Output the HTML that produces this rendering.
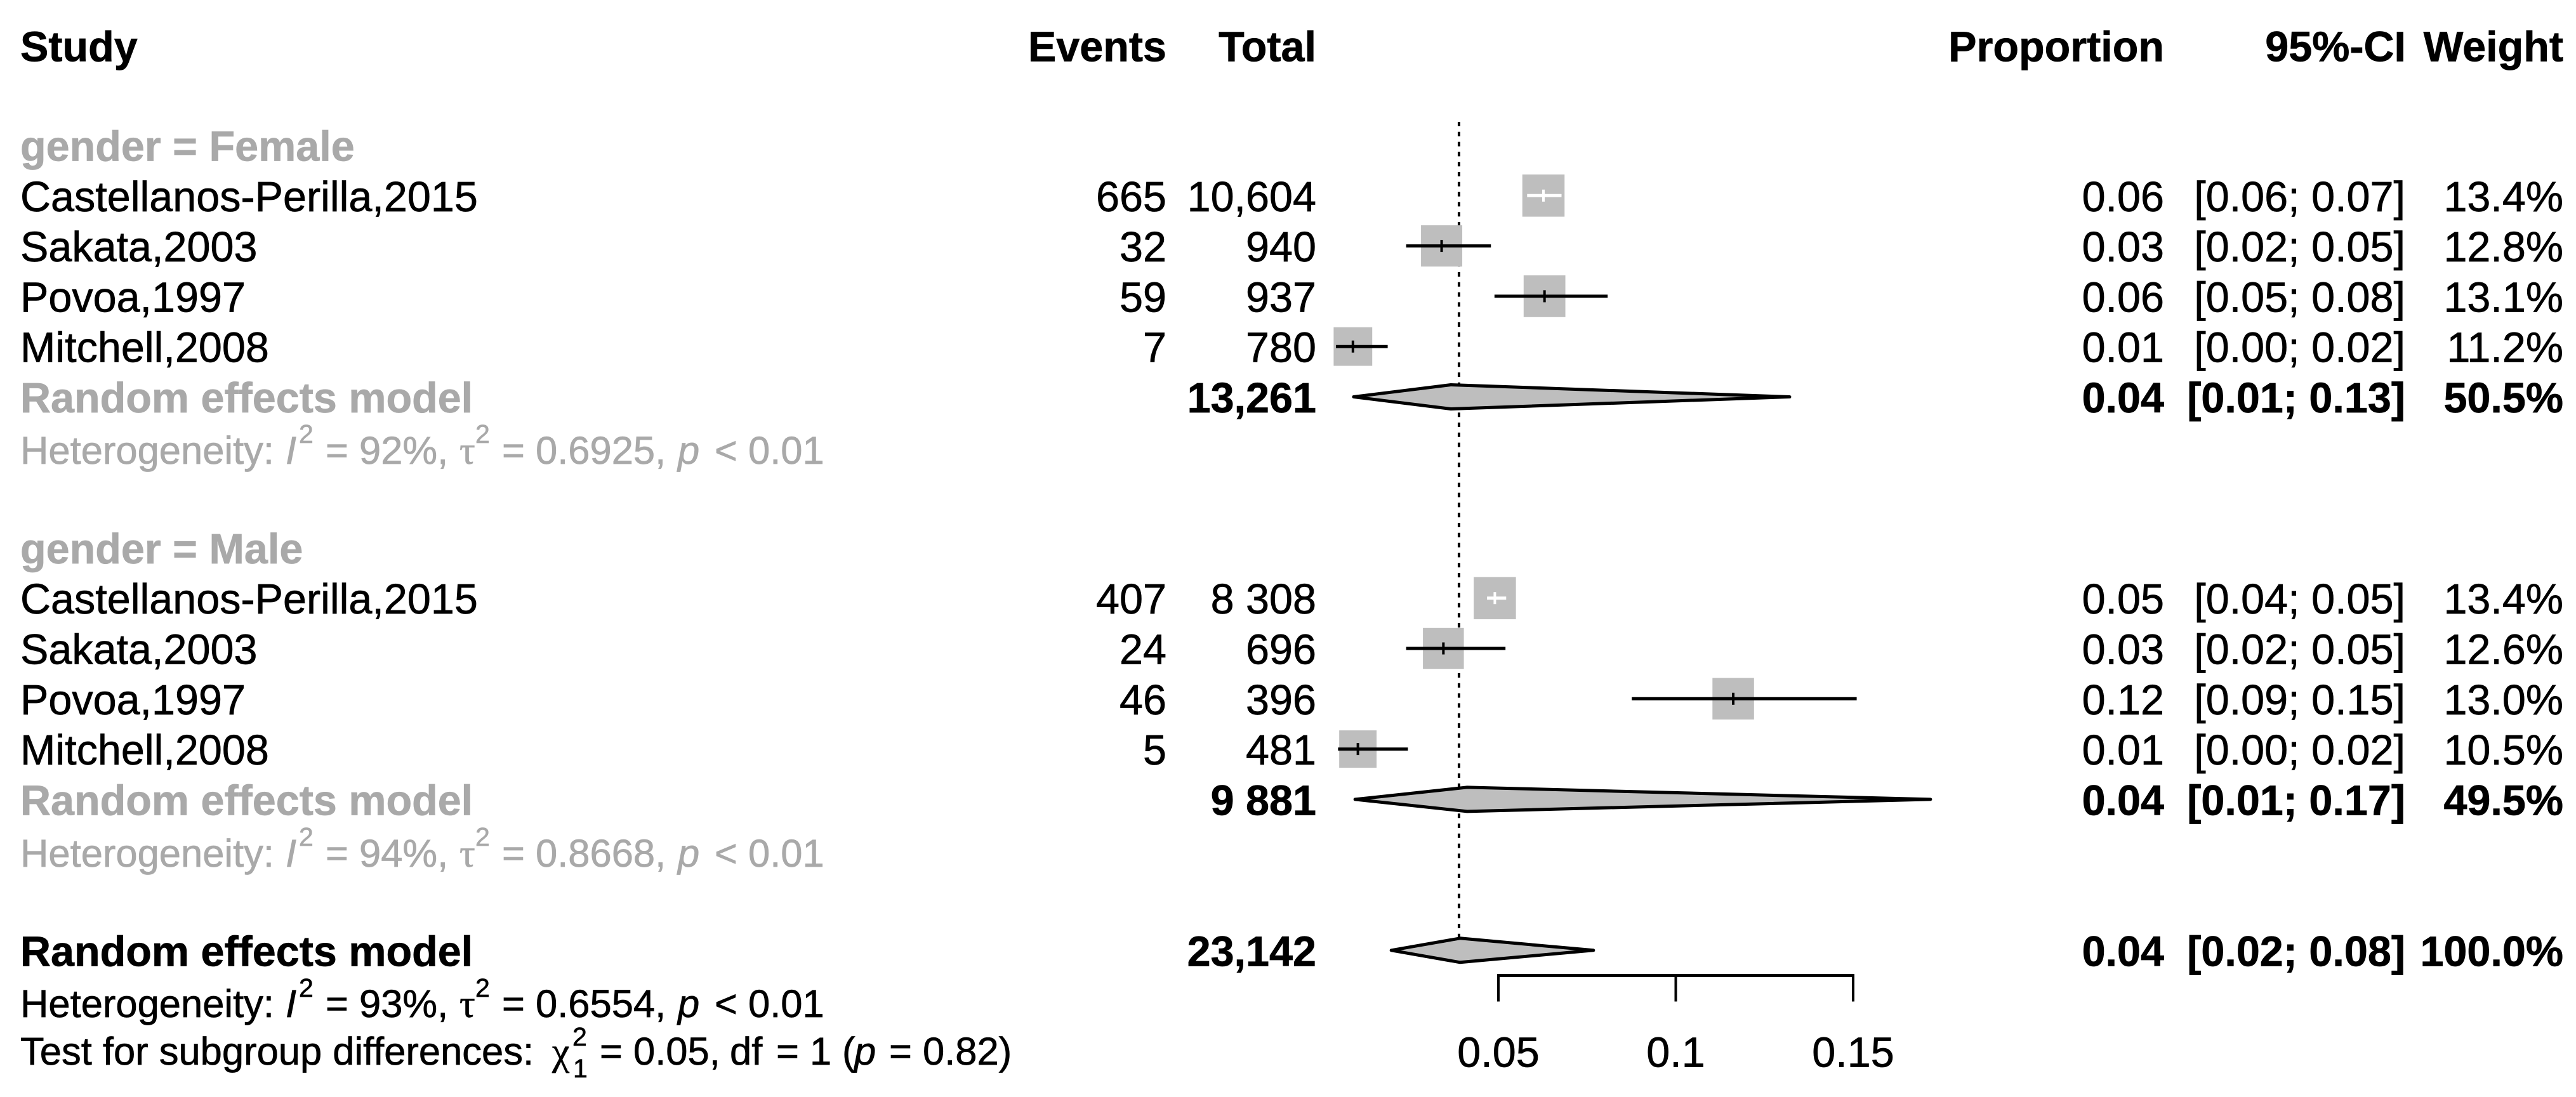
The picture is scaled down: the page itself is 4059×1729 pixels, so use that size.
<!DOCTYPE html>
<html lang="en">
<head>
<meta charset="utf-8">
<title>Forest plot of proportions by gender</title>
<style>
html,body{margin:0;padding:0;background:#fff;}
body{width:4059px;height:1729px;overflow:hidden;}
svg{display:block;}
text{font-family:"Liberation Sans",Arial,sans-serif;font-size:66.5px;fill:#000;stroke:#000;stroke-width:.7px;}
.b{font-weight:bold;}
.g{fill:#a9a9a9;stroke:#a9a9a9;}
.i{font-style:italic;}
.sym{font-family:"Liberation Serif",serif;}
.h{font-size:61.5px;}
.s{font-size:41px;}
.r{text-anchor:end;}
.m{text-anchor:middle;}
</style>
</head>
<body>
<svg id="plot" xmlns="http://www.w3.org/2000/svg" width="4059" height="1729" viewBox="0 0 4059 1729">
  <rect width="4059" height="1729" fill="#fff"/>

  <text class="b" x="32" y="96.5">Study</text>
  <text class="b r" x="1838" y="96.5">Events</text>
  <text class="b r" x="2074" y="96.5">Total</text>
  <text class="b r" x="3410" y="96.5">Proportion</text>
  <text class="b r" x="3791" y="96.5">95%-CI</text>
  <text class="b r" x="4039" y="96.5">Weight</text>

  <text class="b g" x="32" y="253.5">gender = Female</text>
  <text class="b g" x="32" y="888">gender = Male</text>

  <text class="g h" y="731"><tspan x="32">Heterogeneity:</tspan><tspan x="450" class="i">I</tspan><tspan x="471" y="698" class="s">2</tspan><tspan x="513" y="731">= 92%,</tspan><tspan x="724" class="sym">τ</tspan><tspan x="749" y="698" class="s">2</tspan><tspan x="791" y="731">= 0.6925,</tspan><tspan x="1068" class="i">p</tspan><tspan x="1126">&lt; 0.01</tspan></text>
  <text class="g h" y="1366"><tspan x="32">Heterogeneity:</tspan><tspan x="450" class="i">I</tspan><tspan x="471" y="1333" class="s">2</tspan><tspan x="513" y="1366">= 94%,</tspan><tspan x="724" class="sym">τ</tspan><tspan x="749" y="1333" class="s">2</tspan><tspan x="791" y="1366">= 0.8668,</tspan><tspan x="1068" class="i">p</tspan><tspan x="1126">&lt; 0.01</tspan></text>
  <text class="h" y="1603"><tspan x="32">Heterogeneity:</tspan><tspan x="450" class="i">I</tspan><tspan x="471" y="1571" class="s">2</tspan><tspan x="513" y="1603">= 93%,</tspan><tspan x="724" class="sym">τ</tspan><tspan x="749" y="1571" class="s">2</tspan><tspan x="791" y="1603">= 0.6554,</tspan><tspan x="1068" class="i">p</tspan><tspan x="1126">&lt; 0.01</tspan></text>
  <text class="h" y="1678"><tspan x="32">Test for subgroup differences:</tspan><tspan x="870" class="sym">χ</tspan><tspan x="902" y="1648" class="s">2</tspan><tspan x="903" y="1698" class="s">1</tspan><tspan x="945" y="1678">= 0.05,</tspan><tspan x="1150">df</tspan><tspan x="1223">= 1</tspan><tspan x="1327">(</tspan><tspan x="1346" class="i">p</tspan><tspan x="1401">= 0.82)</tspan></text>

  <g id="marks"></g>
  <g id="labels"></g>
</svg>

<script>
// Study-level data (female rows first, then male rows)
const studies = ["Castellanos-Perilla,2015","Sakata,2003","Povoa,1997","Mitchell,2008","Castellanos-Perilla,2015","Sakata,2003","Povoa,1997","Mitchell,2008"];
const eventLabels = ["665","32","59","7","407","24","46","5"];
const totalLabels = ["10,604","940","937","780","8 308","696","396","481"];
const means = [0.0627,0.0340,0.0630,0.0090,0.0490,0.0345,0.1162,0.0104];
const lowers = [0.0581,0.0240,0.0489,0.0042,0.0468,0.0240,0.0876,0.0048];
const uppers = [0.0678,0.0479,0.0808,0.0188,0.0522,0.0520,0.1510,0.0245];
const weights = [13.4,12.8,13.1,11.2,13.4,12.6,13.0,10.5];
const proportionLabels = ["0.06","0.03","0.06","0.01","0.05","0.03","0.12","0.01"];
const ciLabels = ["[0.06; 0.07]","[0.02; 0.05]","[0.05; 0.08]","[0.00; 0.02]","[0.04; 0.05]","[0.02; 0.05]","[0.09; 0.15]","[0.00; 0.02]"];
const weightLabels = ["13.4%","12.8%","13.1%","11.2%","13.4%","12.6%","13.0%","10.5%"];

// Pooled models (female, male, overall)
const modelNames = ["Random effects model","Random effects model","Random effects model"];
const modelTotals = ["13,261","9 881","23,142"];
const modelMeans = [0.0366,0.0412,0.0392];
const modelLowers = [0.0092,0.0096,0.0198];
const modelUppers = [0.1321,0.1718,0.0768];
const modelProportions = ["0.04","0.04","0.04"];
const modelCIs = ["[0.01; 0.13]","[0.01; 0.17]","[0.02; 0.08]"];
const modelWeights = ["50.5%","49.5%","100.0%"];

// Axis
const ticks = [0.05,0.1,0.15];
const tickLabels = ["0.05","0.1","0.15"];
const referenceValue = 0.0389;

const NS = "http://www.w3.org/2000/svg";
const marks = document.getElementById("marks");
const labels = document.getElementById("labels");

function xScale(v){ return 2361 + (v - 0.05) * 5590; }
function rowY(k){ return 70.4 + 79.3 * k; }
function studyRow(i){ return i < 4 ? 3 + i : 7 + i; }
function modelRow(j){ return [7, 15, 18][j]; }
function boxSize(w){ return 18.17 * Math.sqrt(w); }
function baseline(k){ return rowY(k) + 24.5; }

function shape(parent, tag, attrs){
  const el = document.createElementNS(NS, tag);
  for (const key in attrs) el.setAttribute(key, attrs[key]);
  parent.appendChild(el);
  return el;
}
function label(x, y, str, cls){
  const el = document.createElementNS(NS, "text");
  el.setAttribute("x", x);
  el.setAttribute("y", y);
  el.setAttribute("class", cls);
  el.textContent = str;
  labels.appendChild(el);
  return el;
}

// reference line
const refLine = shape(marks, "line", {x1:xScale(referenceValue), x2:xScale(referenceValue), y1:192, y2:1480, stroke:"#000", "stroke-width":4, "stroke-dasharray":"7 8.8"});



// study marks
studies.forEach(function(name, i){
  const y = rowY(studyRow(i));
  const size = boxSize(weights[i]);
  const box = shape(marks, "rect", {x:xScale(means[i]) - size / 2, y:y - size / 2, width:size, height:size, fill:"#bebebe"});
  
  
  const inside = xScale(lowers[i]) > xScale(means[i]) - size / 2 && xScale(uppers[i]) < xScale(means[i]) + size / 2;
  const colour = inside ? "#fff" : "#000";
  const ci = shape(marks, "line", {x1:xScale(lowers[i]), x2:xScale(uppers[i]), y1:y, y2:y, stroke:colour, "stroke-width":5});
  
  
  const tick = shape(marks, "line", {x1:xScale(means[i]), x2:xScale(means[i]), y1:y - 9.5, y2:y + 9.5, stroke:colour, "stroke-width":4});
  
  

  const by = baseline(studyRow(i));
  const t1 = label(32, by, name, "");
  
  
  const t2 = label(1838, by, eventLabels[i], "r");
  
  
  const t3 = label(2074, by, totalLabels[i], "r");
  
  
  const t4 = label(3410, by, proportionLabels[i], "r");
  
  
  const t5 = label(3790, by, ciLabels[i], "r");
  
  
  const t6 = label(4039, by, weightLabels[i], "r");
  
  
});

// pooled diamonds
modelNames.forEach(function(name, j){
  const k = modelRow(j);
  const y = rowY(k);
  const pts = [[xScale(modelLowers[j]), y], [xScale(modelMeans[j]), y - 19], [xScale(modelUppers[j]), y], [xScale(modelMeans[j]), y + 19]];
  const d = shape(marks, "polygon", {points:pts.map(function(p){ return p.join(","); }).join(" "), fill:"#bebebe", stroke:"#000", "stroke-width":5, "stroke-linejoin":"round"});
  
  

  const by = baseline(k);
  const t1 = label(32, by, name, j < 2 ? "b g" : "b");
  
  
  const t2 = label(2074, by, modelTotals[j], "b r");
  
  
  const t3 = label(3410, by, modelProportions[j], "b r");
  
  
  const t4 = label(3790, by, modelCIs[j], "b r");
  
  
  const t5 = label(4039, by, modelWeights[j], "b r");
  
  
});

// x axis
const axisLine = shape(marks, "line", {x1:xScale(ticks[0]) - 2, x2:xScale(ticks[ticks.length - 1]) + 2, y1:1537.5, y2:1537.5, stroke:"#000", "stroke-width":5});


ticks.forEach(function(v, i){
  const tk = shape(marks, "line", {x1:xScale(v), x2:xScale(v), y1:1537.5, y2:1578.5, stroke:"#000", "stroke-width":4});
  
  
  const tl = label(xScale(v), 1681.5, tickLabels[i], "m");
  
  
});
</script>
</body>
</html>
